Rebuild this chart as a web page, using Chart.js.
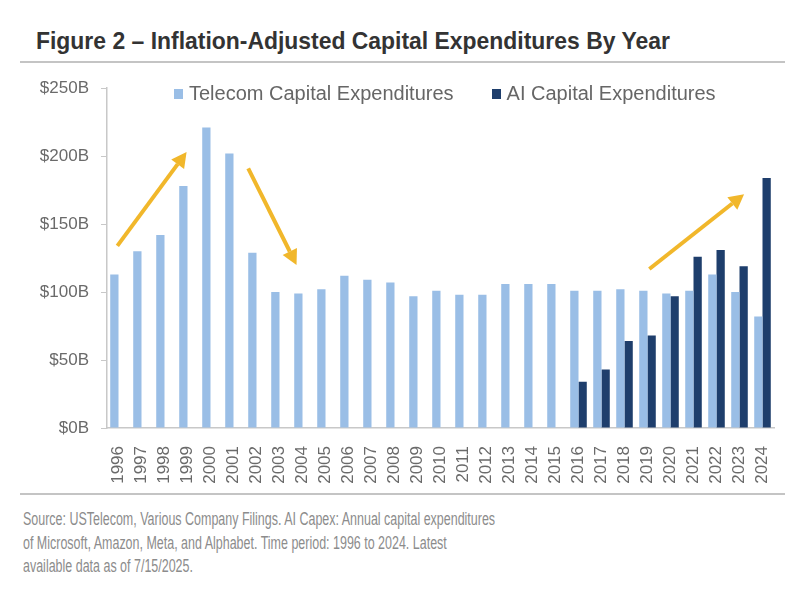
<!DOCTYPE html>
<html>
<head>
<meta charset="utf-8">
<script src="https://cdn.jsdelivr.net/npm/chart.js@4.4.1/dist/chart.umd.min.js"></script>
<style>
  body { margin: 0; background: #fff; width: 804px; height: 594px; position: relative; overflow: hidden; font-family: "Liberation Sans", Arial, sans-serif; }
  #title { position: absolute; left: 36px; top: 27px; font-weight: bold; font-size: 24px; color: #333; white-space: nowrap; transform: scaleX(0.955); transform-origin: left top; }
  .rule { position: absolute; left: 20px; width: 765px; height: 2px; background: #c4c4c4; }
  #legend { position: absolute; top: 82px; left: 174px; display: flex; font-size: 20px; color: #666; white-space: nowrap; }
  #legend .item { display: flex; align-items: center; margin-right: 38px; }
  #legend .box { width: 9px; height: 10px; margin-right: 6px; }
  #wrap { position: absolute; left: 0; top: 66px; width: 804px; height: 420px; }
  #footer { position: absolute; left: 23px; top: 508px; font-size: 17.5px; line-height: 23.5px; color: #8c8c8c; white-space: nowrap; transform: scaleX(0.713); transform-origin: left top; }
</style>
</head>
<body>
<div id="title">Figure 2 – Inflation-Adjusted Capital Expenditures By Year</div>
<div class="rule" style="top:61px"></div>
<div id="wrap"><canvas id="capexChart"></canvas></div>
<div id="legend"></div>
<div class="rule" style="top:493px"></div>
<div id="footer">Source: USTelecom, Various Company Filings. AI Capex: Annual capital expenditures<br>of Microsoft, Amazon, Meta, and Alphabet. Time period: 1996 to 2024. Latest<br>available data as of 7/15/2025.</div>
<script>
// years on the x axis
const years = ['1996', '1997', '1998', '1999', '2000', '2001', '2002', '2003', '2004', '2005',
    '2006', '2007', '2008', '2009', '2010', '2011', '2012', '2013', '2014', '2015',
    '2016', '2017', '2018', '2019', '2020', '2021', '2022', '2023', '2024'];

// inflation-adjusted capex, $B
const telecomCapex = [113, 130, 142, 178, 221, 202, 129, 100, 99, 102,
    112, 109, 107, 97, 101, 98, 98, 106, 106, 106,
    101, 101, 102, 101, 99, 101, 113, 100, 82];
const aiCapex = [null, null, null, null, null, null, null, null, null, null,
    null, null, null, null, null, null, null, null, null, null,
    34, 43, 64, 68, 97, 126, 131, 119, 184];

const yTicks = [0, 50, 100, 150, 200, 250];

// trend arrows: [x index from, $B from, x index to, $B to]
const trendArrows = [
    [-0.05, 134, 2.96, 203],
    [5.64, 191, 7.74, 120],
    [23.08, 117, 27.2, 172]
];

const seriesNames = ['Telecom Capital Expenditures', 'AI Capital Expenditures'];
const seriesColors = ['#9abee6', '#1e3e6c'];

// legend as plain html
document.getElementById('legend').innerHTML = seriesNames.map((name, i) =>
    `<div class="item"><span class="box" style="background:${seriesColors[i]}"></span>${name}</div>`).join('');

const arrowPlugin = {
    id: 'trendArrows',
    afterDatasetsDraw(chart) {
        const ctx = chart.ctx;
        const xs = chart.scales.x, ys = chart.scales.y;
        ctx.save();
        ctx.strokeStyle = '#f1b72b';
        ctx.fillStyle = '#f1b72b';
        ctx.lineWidth = 4;
        trendArrows.forEach(a => {
            const x1 = xs.getPixelForValue(a[0]), y1 = ys.getPixelForValue(a[1]);
            const x2 = xs.getPixelForValue(a[2]), y2 = ys.getPixelForValue(a[3]);
            const ang = Math.atan2(y2 - y1, x2 - x1);
            const head = 15, half = 8;
            const bx = x2 - head * Math.cos(ang), by = y2 - head * Math.sin(ang);
            ctx.beginPath();
            ctx.moveTo(x1, y1);
            ctx.lineTo(bx, by);
            ctx.stroke();
            ctx.beginPath();
            ctx.moveTo(x2, y2);
            ctx.lineTo(bx + half * Math.sin(ang), by - half * Math.cos(ang));
            ctx.lineTo(bx - half * Math.sin(ang), by + half * Math.cos(ang));
            ctx.closePath();
            ctx.fill();
        });
        ctx.restore();
    }
};

const ctx = document.getElementById('capexChart').getContext('2d');
new Chart(ctx, {
    type: 'bar',
    data: {
        labels: years,
        datasets: [
            { label: seriesNames[0], data: telecomCapex, backgroundColor: seriesColors[0] },
            { label: seriesNames[1], data: aiCapex, backgroundColor: seriesColors[1] }
        ]
    },
    options: {
        responsive: true,
        maintainAspectRatio: false,
        animation: false,
        datasets: { bar: { barPercentage: 1, categoryPercentage: 0.72 } },
        layout: { padding: { top: 17, right: 30, bottom: 0, left: 0 } },
        plugins: {
            legend: { display: false },
            tooltip: { enabled: false }
        },
        scales: {
            x: {
                grid: { display: false },
                border: { display: true, color: '#c8c8c8', width: 1.5 },
                ticks: {
                    color: '#6a6a6a',
                    font: { family: 'Liberation Sans', size: 17 },
                    minRotation: 90, maxRotation: 90,
                    padding: 10,
                    autoSkip: false
                },
                afterFit: s => { s.height = 58; }
            },
            y: {
                min: 0, max: 250,
                afterBuildTicks: s => { s.ticks = yTicks.map(v => ({ value: v })); },
                grid: { drawOnChartArea: false, drawTicks: true, tickLength: 6, color: '#c8c8c8' },
                border: { display: true, color: '#c8c8c8', width: 1.5 },
                ticks: {
                    color: '#6a6a6a',
                    font: { family: 'Liberation Sans', size: 17 },
                    padding: 12,
                    callback: v => '$' + v + 'B'
                },
                afterFit: s => { s.width = 107; }
            }
        }
    },
    plugins: [arrowPlugin]
});
</script>
</body>
</html>
